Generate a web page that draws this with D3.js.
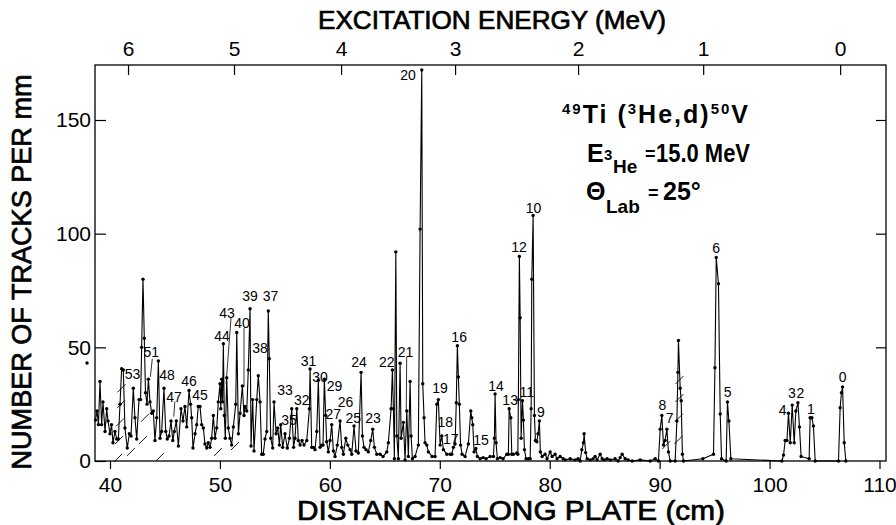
<!DOCTYPE html>
<html><head><meta charset="utf-8">
<script src="https://cdn.jsdelivr.net/npm/d3@7"></script>
<style>body{margin:0;background:#fff}</style>
</head><body><svg id="c" width="896" height="525"></svg>
<script>
// ---------- DATA ----------
// spectrum: [distance along plate (cm), number of tracks per mm]
const spectrum = [
[38.68,18],[38.82,22],[38.95,16],[39.09,35],[39.24,16],[39.36,26],[39.55,13],[39.70,23],[39.82,17.6],[40.00,12],[40.14,16],[40.27,8],[40.45,13],[40.61,9.7],[40.76,9.7],[40.91,25],[41.06,40.6],[41.21,40],[41.36,14.5],[41.57,5.7],[41.76,12],[41.91,11],[42.12,32],[42.27,19],[42.43,9.7],[42.64,27],[42.78,27],[42.88,50],[43.00,80],[43.12,54],[43.23,30],[43.37,25],[43.49,36],[43.64,26],[43.79,21],[43.94,22],[44.09,9],[44.25,19],[44.40,44],[44.55,10],[44.70,13],[44.91,32],[45.07,13],[45.21,9.7],[45.37,11],[45.55,17.6],[45.71,9],[45.85,13],[46.03,17.6],[46.22,6.6],[46.46,23],[46.64,17.6],[46.82,24],[46.98,15],[47.19,31],[47.33,25],[47.43,19],[47.55,5.7],[47.74,12],[47.89,16],[48.03,24],[48.19,24],[48.34,16],[48.49,14.5],[48.64,7.5],[48.80,5.7],[48.94,8],[49.10,6],[49.25,10],[49.40,20],[49.55,10],[49.71,14.5],[49.85,26],[50.01,34],[50.08,23],[50.16,36],[50.24,26],[50.31,51.6],[50.40,20],[50.49,10],[50.62,36.6],[50.76,14.5],[50.92,10],[51.07,7],[51.22,15],[51.44,25],[51.53,56.5],[51.68,12],[51.83,21],[52.04,33],[52.19,20],[52.28,24],[52.44,22],[52.58,40],[52.74,67],[52.83,6.6],[52.98,27],[53.10,4.4],[53.35,27],[53.49,37.5],[53.65,26],[53.80,3],[53.94,3],[54.10,9.7],[54.26,13],[54.40,66],[54.49,45],[54.62,10],[54.80,5.7],[54.92,26],[55.11,12],[55.26,14.5],[55.41,7],[55.53,16],[55.71,6],[55.92,12],[56.13,5.7],[56.32,10],[56.53,23],[56.70,6],[56.83,10],[56.99,23],[57.13,9],[57.29,7],[57.47,9],[57.65,7],[57.90,9],[58.14,23],[58.20,40.5],[58.35,6],[58.50,6],[58.65,5],[58.81,13],[58.95,35.5],[59.11,6],[59.26,7],[59.38,7],[59.50,36],[59.62,20],[59.71,8.5],[59.86,4],[60.02,9],[60.17,16],[60.32,4.4],[60.47,2],[60.68,7],[60.93,17.6],[61.08,6],[61.23,3],[61.45,10],[61.63,7],[61.84,5],[61.99,3],[62.20,15.4],[62.38,4.4],[62.59,3.5],[62.84,39],[62.96,11],[63.11,6],[63.29,5],[63.50,4],[63.72,9],[63.90,14],[64.05,6],[64.27,3],[64.57,3],[64.84,2],[65.18,4],[65.32,8],[65.57,23],[65.69,40],[65.78,23],[65.87,1],[66.00,92],[66.09,11],[66.23,1],[66.39,43],[66.48,10],[66.69,17],[66.84,0.5],[67.00,22],[67.14,2],[67.30,35],[67.39,11],[67.51,1],[67.75,2],[68.05,7],[68.21,102],[68.36,172],[68.45,34],[68.57,19],[68.66,8],[68.82,7],[68.96,4],[69.30,2],[69.57,2],[69.73,25],[69.87,27],[70.03,7],[70.18,11],[70.33,5],[70.64,3],[70.94,3],[71.09,3],[71.24,6],[71.39,7.5],[71.50,25.6],[71.60,50.7],[71.69,37],[71.78,25],[71.89,7],[72.03,3],[72.30,2],[72.60,7.5],[72.82,22],[72.91,19],[73.00,16],[73.12,4],[73.28,5.5],[73.42,2],[73.67,1],[73.94,1.5],[74.21,1],[74.58,2],[74.88,2],[74.97,10],[75.03,29.5],[75.12,8],[75.24,1],[75.49,1.5],[75.76,1],[76.10,3],[76.24,3],[76.31,23],[76.46,19],[76.55,3],[76.70,3],[77.01,3.5],[77.10,3],[77.15,27],[77.24,90],[77.31,63],[77.40,10],[77.52,26.5],[77.61,18],[77.70,5],[77.85,1],[78.06,1],[78.22,1],[78.31,23],[78.37,80],[78.49,108],[78.61,20],[78.70,9],[78.83,8.5],[78.94,12],[79.06,17.6],[79.15,4],[79.31,2],[79.58,3],[79.76,1],[80.04,4],[80.22,2],[80.49,3],[80.67,1],[80.95,2],[81.22,1],[81.40,0.5],[81.86,1],[82.31,0.5],[82.58,1],[82.77,0],[82.92,5],[83.07,8],[83.13,12],[83.27,3.7],[83.40,1],[83.68,0.5],[83.95,1],[84.13,2],[84.31,0.5],[84.59,3],[84.77,1],[84.95,0.5],[85.22,1],[85.50,0.5],[85.95,1],[86.22,0],[86.41,1.5],[86.59,3],[86.86,1],[87.13,0.5],[87.50,0],[88.23,0.5],[89.14,0],[89.59,1],[89.89,0],[90.05,14],[90.20,20],[90.35,7],[90.50,9],[90.66,14],[90.80,4],[90.96,0],[91.41,0],[91.57,17.6],[91.66,39],[91.71,53],[91.87,32],[91.96,26.5],[92.07,3],[92.17,0],[93.93,1],[94.90,3],[95.03,41],[95.15,89.5],[95.35,78],[95.51,20.7],[95.63,1],[96.05,0],[96.17,26],[96.30,17.6],[96.48,1],[101.12,0],[101.27,2.6],[101.42,9],[101.58,9],[101.72,21],[101.88,8],[102.06,24.6],[102.24,8],[102.39,22],[102.58,25.6],[102.72,15],[102.87,2],[103.60,1],[103.69,19],[103.85,19],[103.99,15.4],[104.15,0],[106.27,0],[106.42,23.4],[106.54,30],[106.64,32.6],[106.79,8],[106.94,0]
];
const strayPoints = [[37.91,43.1]];

const xTicks = [40,50,60,70,80,90,100,110];
const yTicks = [0,50,100,150];
const energyTicks = [6,5,4,3,2,1,0];
const energyTickCm = [41.64,51.28,61.02,71.39,82.58,93.96,106.42];

const peakNames = ["53","51","48","47","46","45","44","43","40","39","38","37","35","33","32","31","30","29","27","26","25","24","23","22","21","20","19","18","17","16","15","14","13","12","11","10","9","8","7","6","5","4","3","2","1","0"];
const peakLabelCm = [42.05,43.76,45.19,45.82,47.19,48.19,50.19,50.65,52.01,52.74,53.65,54.6,56.29,55.92,57.45,58.05,59.11,60.43,60.31,61.43,62.14,62.66,63.93,65.18,66.89,67.12,70.03,70.5,71.0,71.76,73.76,75.12,76.4,77.2,77.91,78.52,79.2,90.26,90.9,95.15,96.18,101.2,102.03,102.8,103.77,106.65];
const peakLabelTracks = [36,45.8,35.6,26,33,26.8,53,63,58.5,70.4,47.5,70.4,15.8,29,24.6,42,34.7,31,18.5,23.7,16.7,41.4,16.7,41.4,45.8,167.6,30,15,7.6,52.4,7,31,24.6,92,28.3,109,19.5,22.4,16.6,91.4,28.3,20.2,27.6,27.6,20.7,34.9];
// indicator lines [cm1, tracks1, cm2, tracks2]
const pointerLines = [[43.85,45,43.67,37],[45.9,26.2,45.8,19.5],[51.01,63,50.56,34],[52.19,58.5,52.19,32.5],[66.99,45.8,66.95,22]];
// hatch marks [cm, tracks]
const hatchMarks = [[40.73,1.3],[41.91,4],[43.0,9.2],[43.18,19],[44.55,1.8],[49.83,4],[51.37,6.6],[40.82,9.2],[40.91,17],[41.0,25],[41.05,32],[91.7,9.2],[91.75,19],[91.8,27.7],[91.8,35.6],[90.6,7]];

// ---------- CHART ----------
const svg = d3.select("#c");
const L = 95, R = 886, T = 65, B = 461;
const x = d3.scaleLinear().domain([40,110]).range([110,879.5]);
const y = d3.scaleLinear().domain([0,150]).range([B,120]);
const eScale = d3.scaleLinear().domain(energyTicks).range(energyTickCm.map(x));
const tickFont = "'Liberation Sans Narrow','Liberation Sans',Arial,sans-serif";
const titleFont = "'Liberation Sans',Arial,sans-serif";

svg.append("rect").attr("x",L).attr("y",T).attr("width",R-L).attr("height",B-T)
  .attr("fill","none").attr("stroke","#000").attr("stroke-width",1.3);

function styleAxis(g, size){
  g.select(".domain").remove();
  g.selectAll("line").attr("stroke","#000").attr("stroke-width",1.2);
  g.selectAll("text").attr("font-family",tickFont).attr("font-size",size).attr("fill","#000");
}
svg.append("g").attr("transform",`translate(0,${B})`)
  .call(d3.axisBottom(x).tickValues(xTicks).tickSize(8).tickPadding(8).tickFormat(d3.format("d")))
  .call(g=>styleAxis(g,21));
svg.append("g").attr("transform",`translate(${L},0)`)
  .call(d3.axisLeft(y).tickValues(yTicks).tickSize(-11).tickPadding(4).tickFormat(d3.format("d")))
  .call(g=>styleAxis(g,21));
svg.append("g").attr("transform",`translate(${R},0)`)
  .call(d3.axisRight(y).tickValues(yTicks.slice(1)).tickSize(-10).tickFormat(""))
  .call(g=>styleAxis(g,21));
svg.append("g").attr("transform",`translate(0,${T})`)
  .call(d3.axisTop(eScale).tickValues(energyTicks).tickSize(-10).tickPadding(9).tickFormat(d3.format("d")))
  .call(g=>styleAxis(g,21));

// titles
const titleStyle = t => t.attr("font-family",titleFont).attr("font-weight","normal")
  .attr("stroke","#000").attr("stroke-width",0.7).attr("fill","#000").attr("lengthAdjust","spacingAndGlyphs");
svg.append("text").attr("x",492).attr("y",29).attr("text-anchor","middle").attr("font-size",25)
  .attr("textLength",348).call(titleStyle).text("EXCITATION ENERGY (MeV)");
svg.append("text").attr("x",511).attr("y",520).attr("text-anchor","middle").attr("font-size",27)
  .attr("textLength",428).call(titleStyle).text("DISTANCE ALONG PLATE (cm)");
svg.append("text").attr("transform","translate(31,272) rotate(-90)").attr("text-anchor","middle").attr("font-size",27)
  .attr("textLength",395).call(titleStyle).text("NUMBER OF TRACKS PER mm");

// hatch marks
svg.append("g").selectAll("line").data(hatchMarks).join("line")
  .attr("x1",d=>x(d[0])-4).attr("y1",d=>y(d[1])+4).attr("x2",d=>x(d[0])+4).attr("y2",d=>y(d[1])-4)
  .attr("stroke","#000").attr("stroke-width",0.9);

// spectrum
const line = d3.line().x(d=>x(d[0])).y(d=>y(d[1]));
svg.append("path").datum(spectrum).attr("d",line).attr("fill","none")
  .attr("stroke","#000").attr("stroke-width",1.1).attr("stroke-linejoin","round");
svg.append("g").selectAll("circle").data(spectrum.concat(strayPoints)).join("circle")
  .attr("cx",d=>x(d[0])).attr("cy",d=>y(d[1])).attr("r",1.7).attr("fill","#000");

// pointer lines
svg.append("g").selectAll("line").data(pointerLines).join("line")
  .attr("x1",d=>x(d[0])).attr("y1",d=>y(d[1])).attr("x2",d=>x(d[2])).attr("y2",d=>y(d[3]))
  .attr("stroke","#000").attr("stroke-width",0.8);

// peak labels
svg.append("g").selectAll("text").data(peakNames).join("text")
  .attr("x",(d,i)=>x(peakLabelCm[i])).attr("y",(d,i)=>y(peakLabelTracks[i]))
  .attr("text-anchor","middle").attr("font-family",tickFont).attr("font-size",14).attr("fill","#000")
  .text(d=>d);

// reaction annotation
const ann = svg.append("g").attr("font-family",titleFont).attr("font-weight","bold").attr("fill","#000");
const t1 = ann.append("text").attr("x",562).attr("y",123).attr("textLength",186).attr("lengthAdjust","spacing");
t1.append("tspan").attr("font-size",15).attr("dy",-9).text("49");
t1.append("tspan").attr("font-size",25).attr("dy",9).text("Ti (");
t1.append("tspan").attr("font-size",15).attr("dy",-9).text("3");
t1.append("tspan").attr("font-size",25).attr("dy",9).text("He,d)");
t1.append("tspan").attr("font-size",15).attr("dy",-9).text("50");
t1.append("tspan").attr("font-size",25).attr("dy",9).text("V");

ann.append("text").attr("x",587).attr("y",162).attr("font-size",25).text("E");
ann.append("text").attr("x",604).attr("y",160).attr("font-size",15).text("3");
ann.append("text").attr("x",613).attr("y",173).attr("font-size",19).text("He");
ann.append("text").attr("x",645).attr("y",160).attr("font-size",18).text("=");
ann.append("text").attr("x",656).attr("y",162).attr("font-size",25)
  .attr("textLength",94).attr("lengthAdjust","spacingAndGlyphs").text("15.0 MeV");

ann.append("text").attr("x",586).attr("y",200).attr("font-size",25).text("Θ");
ann.append("text").attr("x",606).attr("y",213).attr("font-size",19).text("Lab");
ann.append("text").attr("x",648).attr("y",199).attr("font-size",18).text("=");
ann.append("text").attr("x",663).attr("y",200).attr("font-size",25).text("25°");
</script></body></html>
